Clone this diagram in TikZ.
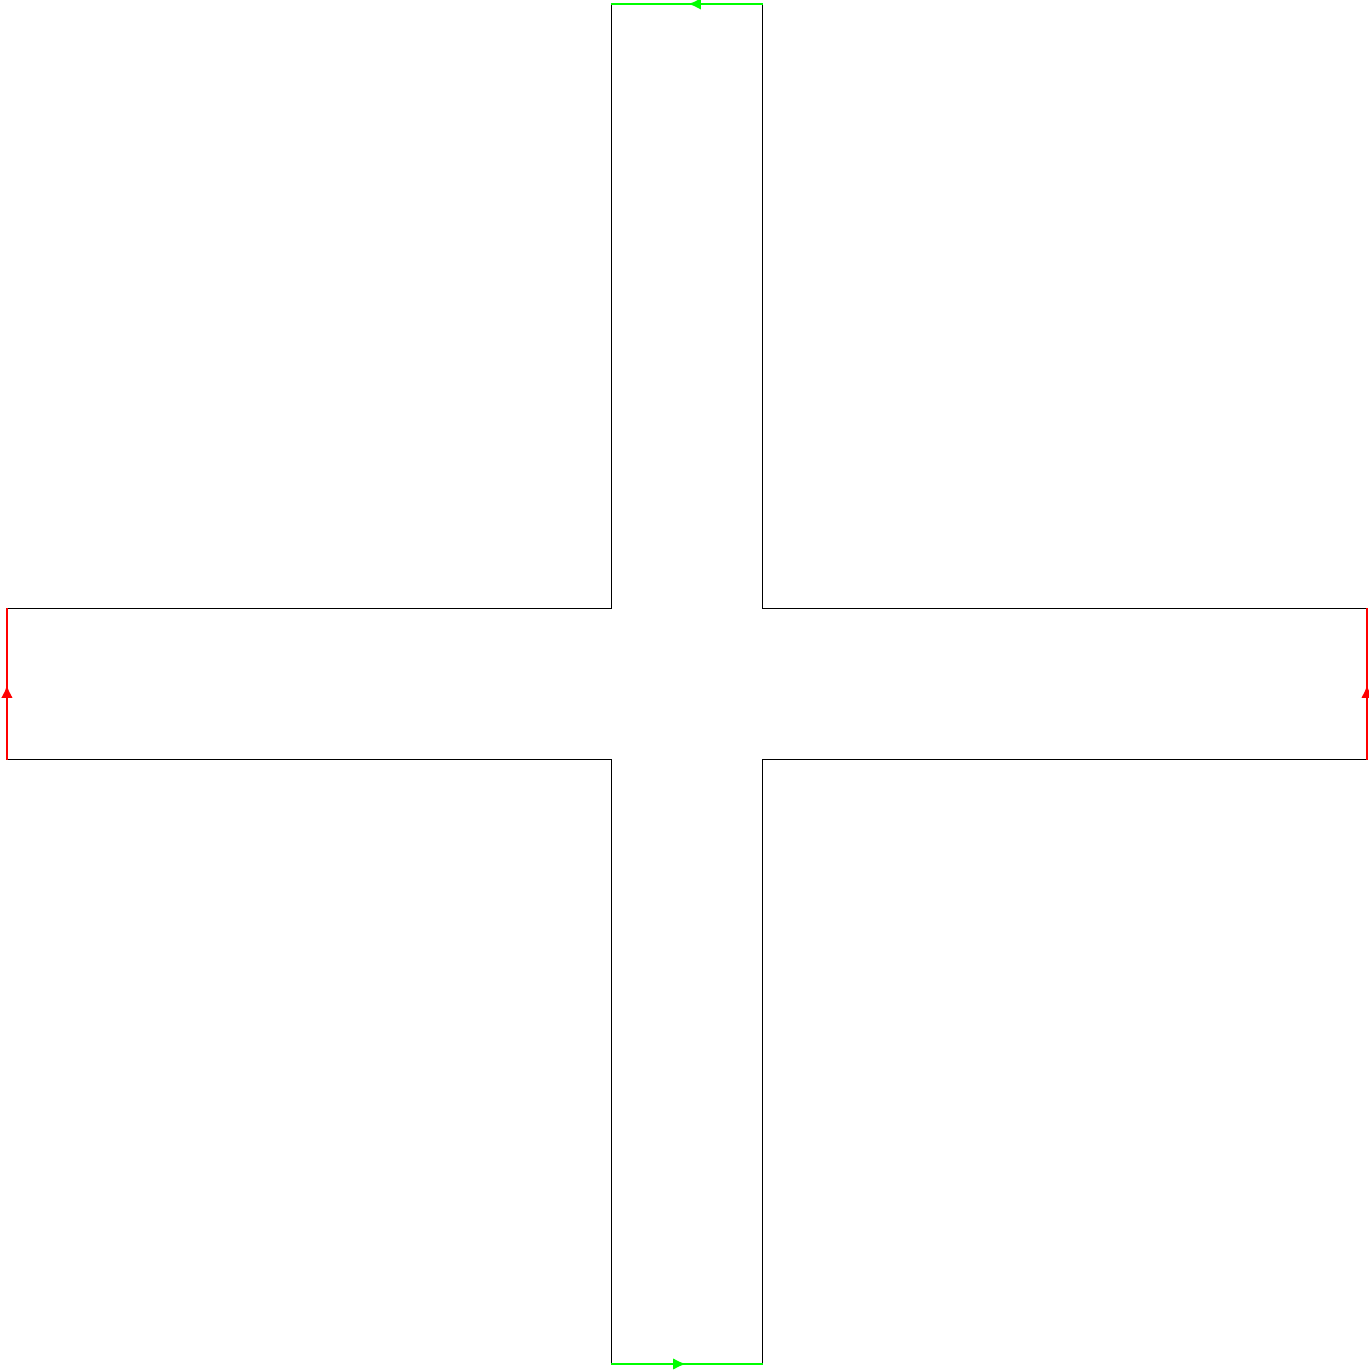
\documentclass[tikz,border=0pt]{standalone}
\usetikzlibrary{decorations.markings,arrows.meta}
\begin{document}
\begin{tikzpicture}[
    wall/.style={draw=black,line width=0.2pt},
    edgemark/.style={line width=0.5pt,postaction={decorate},
        decoration={markings,mark=at position 0.5 with {\arrow[xshift=-0.2pt]{Latex[length=2.4pt,width=2.2pt]}}}},
    rededge/.style={edgemark,draw=red},
    greenedge/.style={edgemark,draw=green}
]
\useasboundingbox (-4.546,-4.553) rectangle (4.507,4.526);
% Corners of the arms
\coordinate (lt) at (-4.5,0.5);
\coordinate (lb) at (-4.5,-0.5);
\coordinate (rt) at (4.5,0.5);
\coordinate (rb) at (4.5,-0.5);
\coordinate (tl) at (-0.5,4.5);
\coordinate (tr) at (0.5,4.5);
\coordinate (bl) at (-0.5,-4.5);
\coordinate (br) at (0.5,-4.5);

% Cross outline
\draw[wall] (lt) -- (-0.5,0.5) -- (tl);
\draw[wall] (tr) -- (0.5,0.5) -- (rt);
\draw[wall] (rb) -- (0.5,-0.5) -- (br);
\draw[wall] (bl) -- (-0.5,-0.5) -- (lb);

% Identified edges
\draw[rededge] (lb) -- (lt);
\draw[rededge] (rb) -- (rt);
\draw[greenedge] (tr) -- (tl);
\draw[greenedge] (bl) -- (br);
\end{tikzpicture}
\end{document}
